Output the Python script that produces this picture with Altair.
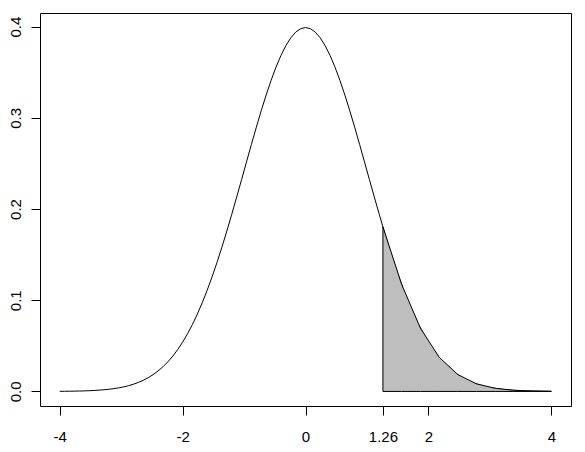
import altair as alt
import pandas as pd

# density curve (x from -4 to 4)
curve_x = [-4.00, -3.92, -3.84, -3.76, -3.68, -3.60, -3.52, -3.44, -3.36, -3.28,
           -3.20, -3.12, -3.04, -2.96, -2.88, -2.80, -2.72, -2.64, -2.56, -2.48,
           -2.40, -2.32, -2.24, -2.16, -2.08, -2.00, -1.92, -1.84, -1.76, -1.68,
           -1.60, -1.52, -1.44, -1.36, -1.28, -1.20, -1.12, -1.04, -0.96, -0.88,
           -0.80, -0.72, -0.64, -0.56, -0.48, -0.40, -0.32, -0.24, -0.16, -0.08,
           0.00,
           0.08, 0.16, 0.24, 0.32, 0.40, 0.48, 0.56, 0.64, 0.72, 0.80,
           0.88, 0.96, 1.04, 1.12, 1.20, 1.28, 1.36, 1.44, 1.52, 1.60,
           1.68, 1.76, 1.84, 1.92, 2.00, 2.08, 2.16, 2.24, 2.32, 2.40,
           2.48, 2.56, 2.64, 2.72, 2.80, 2.88, 2.96, 3.04, 3.12, 3.20,
           3.28, 3.36, 3.44, 3.52, 3.60, 3.68, 3.76, 3.84, 3.92, 4.00]
curve_y = [0.00013, 0.00018, 0.00025, 0.00034, 0.00046, 0.00061, 0.00081, 0.00107, 0.00141, 0.00184,
           0.00238, 0.00307, 0.00393, 0.00499, 0.00631, 0.00792, 0.00987, 0.01223, 0.01506, 0.01843,
           0.02239, 0.02704, 0.03245, 0.03871, 0.04587, 0.05399, 0.06316, 0.07341, 0.08478, 0.09728,
           0.11092, 0.12566, 0.14146, 0.15822, 0.17585, 0.19419, 0.21307, 0.23229, 0.25165, 0.27087,
           0.28969, 0.30785, 0.32506, 0.34105, 0.35553, 0.36827, 0.37903, 0.38762, 0.39387, 0.39767,
           0.39894,
           0.39767, 0.39387, 0.38762, 0.37903, 0.36827, 0.35553, 0.34105, 0.32506, 0.30785, 0.28969,
           0.27087, 0.25165, 0.23229, 0.21307, 0.19419, 0.17585, 0.15822, 0.14146, 0.12566, 0.11092,
           0.09728, 0.08478, 0.07341, 0.06316, 0.05399, 0.04587, 0.03871, 0.03245, 0.02704, 0.02239,
           0.01843, 0.01506, 0.01223, 0.00987, 0.00792, 0.00631, 0.00499, 0.00393, 0.00307, 0.00238,
           0.00184, 0.00141, 0.00107, 0.00081, 0.00061, 0.00046, 0.00034, 0.00025, 0.00018, 0.00013]

# shaded tail from 1.26 to 4
tail_x = [1.26, 1.564, 1.869, 2.173, 2.478, 2.782, 3.087, 3.391, 3.696, 4.00]
tail_y = [0.18037, 0.11742, 0.06955, 0.03763, 0.01852, 0.00833, 0.003402, 0.001271, 0.000431, 0.000134]

x_ticks = [-4, -2, 0, 1.26, 2, 4]
y_ticks = [0.0, 0.1, 0.2, 0.3, 0.4]

curve_df = pd.DataFrame({"x": curve_x, "y": curve_y})
tail_df = pd.DataFrame({"x": tail_x, "y": tail_y, "base": [0.0] * len(tail_x)})

FONT = "Liberation Sans"

xscale = alt.Scale(domain=[-4.32, 4.32], nice=False, zero=False)
yscale = alt.Scale(domain=[-0.015958, 0.414898], nice=False, zero=False)

xaxis = alt.Axis(values=x_ticks, title=None, grid=False, domain=False, tickSize=9,
                 tickColor="black", labelColor="black", labelFont=FONT, labelFontSize=15,
                 labelBaseline="alphabetic", labelPadding=26, labelFlush=False, labelOverlap=False,
                 labelExpr="datum.value == 1.26 ? '1.26' : toString(datum.value)")
yaxis = alt.Axis(values=y_ticks, title=None, grid=False, domain=False, tickSize=9,
                 tickColor="black", labelColor="black", labelFont=FONT, labelFontSize=15,
                 labelAngle=270, labelAlign="center", labelBaseline="alphabetic",
                 labelPadding=11, labelFlush=False, labelOverlap=False, format=".1f")

line = alt.Chart(curve_df).mark_line(color="black", strokeWidth=1).encode(
    x=alt.X("x:Q", scale=xscale, axis=xaxis),
    y=alt.Y("y:Q", scale=yscale, axis=yaxis),
)

area = alt.Chart(tail_df).mark_area(color="#BEBEBE", stroke="black", strokeWidth=1,
                                    opacity=1, line=False).encode(
    x=alt.X("x:Q", scale=xscale),
    y=alt.Y("y:Q", scale=yscale),
    y2=alt.Y2("base:Q"),
)

chart = alt.layer(line, area).properties(
    width=531, height=393,
    autosize=alt.AutoSizeParams(type="none"),
    padding={"left": 32, "top": 5, "right": 6, "bottom": 38},
    background="white",
).configure_view(stroke="black", strokeWidth=1)

chart.save("out.html", embed_options={"renderer": "svg", "actions": False})
